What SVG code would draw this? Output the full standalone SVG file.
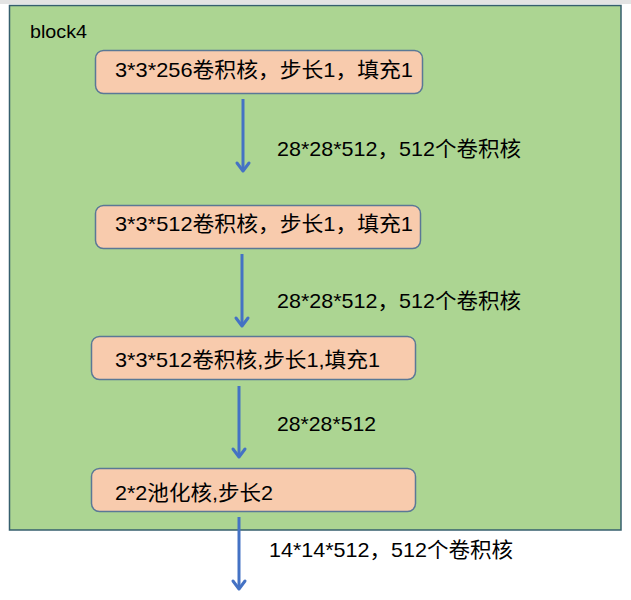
<svg xmlns="http://www.w3.org/2000/svg" width="631" height="600" viewBox="0 0 631 600">
<defs>
<style>
.node{fill:#f8cbad;stroke:#5a7896;stroke-width:1.5}
.t{font-family:"Liberation Sans","Noto Sans CJK SC",sans-serif;font-size:21px;fill:#000}
.c{stroke:#4472c4;stroke-width:3;fill:none}
.h{stroke:#4472c4;stroke-width:3;fill:none;stroke-linecap:round;stroke-linejoin:round}
</style>
</defs>
<rect x="0" y="0" width="631" height="600" fill="#ffffff"/>
<rect x="0" y="0" width="631" height="4" fill="#e3e3e3"/>
<g id="block4">
<rect x="9.5" y="5.5" width="611.5" height="524.5" fill="#acd592" stroke="#365f6e" stroke-width="1.5"/>
<text class="t" x="30" y="38" style="font-size:19px" textLength="57" lengthAdjust="spacingAndGlyphs">block4</text>
</g>
<g id="n1">
<rect class="node" x="95.5" y="50.5" width="327" height="43" rx="8"/>
<text class="t" x="115" y="77" textLength="298" lengthAdjust="spacingAndGlyphs">3*3*256卷积核，步长1，填充1</text>
</g>
<g id="n2">
<rect class="node" x="95.5" y="205.5" width="325" height="43" rx="8"/>
<text class="t" x="115" y="231" textLength="298" lengthAdjust="spacingAndGlyphs">3*3*512卷积核，步长1，填充1</text>
</g>
<g id="n3">
<rect class="node" x="91.5" y="336.5" width="324" height="43" rx="8"/>
<text class="t" x="115" y="367" textLength="265" lengthAdjust="spacingAndGlyphs">3*3*512卷积核,步长1,填充1</text>
</g>
<g id="n4">
<rect class="node" x="91.5" y="468.5" width="324" height="43" rx="8"/>
<text class="t" x="115" y="500" textLength="158" lengthAdjust="spacingAndGlyphs">2*2池化核,步长2</text>
</g>
<g id="connectors">
<line class="c" x1="243" y1="99" x2="243" y2="171"/>
<polyline class="h" points="237,163 243,171 249,163"/>
<line class="c" x1="242" y1="254" x2="242" y2="326"/>
<polyline class="h" points="236,318 242,326 248,318"/>
<line class="c" x1="239" y1="386" x2="239" y2="457"/>
<polyline class="h" points="233,449 239,457 245,449"/>
<line class="c" x1="239" y1="517" x2="239" y2="589"/>
<polyline class="h" points="233,581 239,589 245,581"/>
</g>
<g id="labels">
<text class="t" x="277" y="156" textLength="244" lengthAdjust="spacingAndGlyphs">28*28*512，512个卷积核</text>
<text class="t" x="277" y="308" textLength="244" lengthAdjust="spacingAndGlyphs">28*28*512，512个卷积核</text>
<text class="t" x="277" y="431" textLength="99" lengthAdjust="spacingAndGlyphs">28*28*512</text>
<text class="t" x="269" y="557" textLength="244" lengthAdjust="spacingAndGlyphs">14*14*512，512个卷积核</text>
</g>
</svg>
